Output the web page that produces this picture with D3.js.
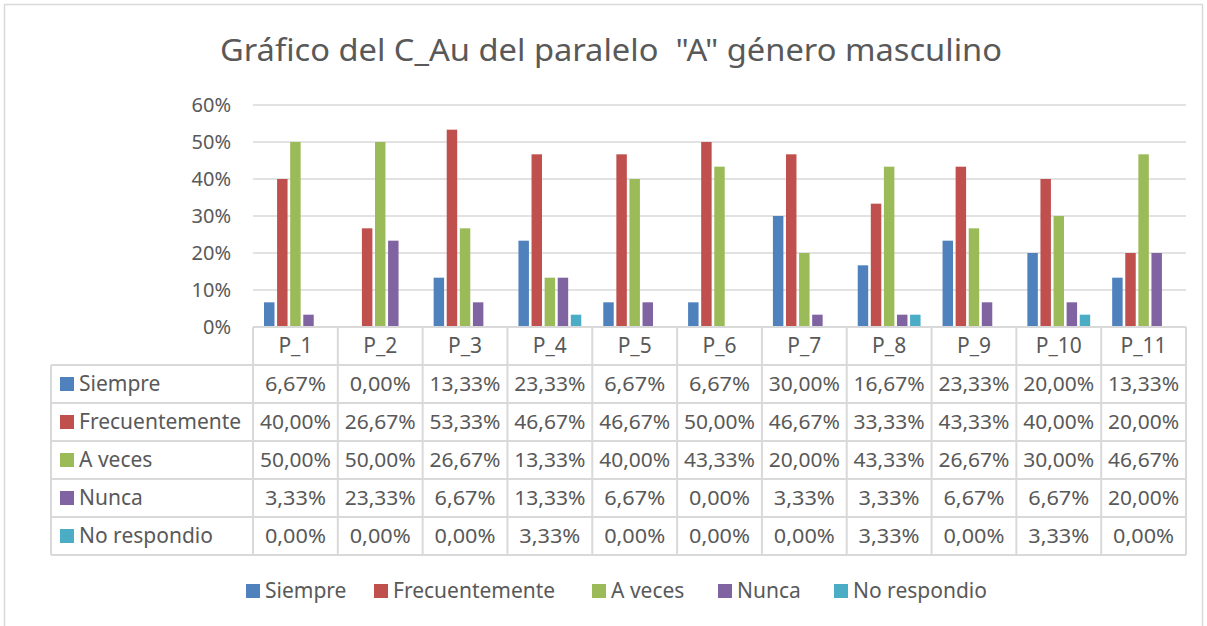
<!DOCTYPE html>
<html>
<head>
<meta charset="utf-8">
<script src="https://cdn.jsdelivr.net/npm/d3@7"></script>
<style>
  body { margin: 0; background: #fff; }
  text { font-family: 'Noto Sans', 'Open Sans', sans-serif; fill: #595959; }
</style>
</head>
<body>
<script>
const categories = ['P_1', 'P_2', 'P_3', 'P_4', 'P_5', 'P_6', 'P_7', 'P_8', 'P_9', 'P_10', 'P_11']
const seriesNames = ['Siempre', 'Frecuentemente', 'A veces', 'Nunca', 'No respondio']
const siempre = [6.67, 0, 13.33, 23.33, 6.67, 6.67, 30, 16.67, 23.33, 20, 13.33]
const frecuentemente = [40, 26.67, 53.33, 46.67, 46.67, 50, 46.67, 33.33, 43.33, 40, 20]
const aVeces = [50, 50, 26.67, 13.33, 40, 43.33, 20, 43.33, 26.67, 30, 46.67]
const nunca = [3.33, 23.33, 6.67, 13.33, 6.67, 0, 3.33, 3.33, 6.67, 6.67, 20]
const noRespondio = [0, 0, 0, 3.33, 0, 0, 0, 3.33, 0, 3.33, 0]
const yTicks = [0, 10, 20, 30, 40, 50, 60]

const seriesValues = [siempre, frecuentemente, aVeces, nunca, noRespondio]
const colors = ['#4F81BD', '#C0504D', '#9BBB59', '#8064A2', '#4BACC6']

const width = 1207
const height = 626
const gridColor = '#D9D9D9'

const svg = d3.select('body').append('svg')
  .attr('width', width)
  .attr('height', height)

// chart border
svg.append('rect')
  .attr('x', 4.5).attr('y', 4.5)
  .attr('width', 1198).attr('height', 640)
  .attr('fill', 'none')
  .attr('stroke', gridColor)
  .attr('stroke-width', 1.5)

svg.append('text')
  .attr('x', 611).attr('y', 61)
  .attr('text-anchor', 'middle')
  .style('font-size', '31px')
  .attr('textLength', 782)
  .attr('lengthAdjust', 'spacingAndGlyphs')
  .attr('xml:space', 'preserve')
  .text('Gráfico del C_Au del paralelo  "A" género masculino')

const x0 = d3.scaleBand().domain(categories).range([253, 1186])
const x1 = d3.scaleBand().domain(seriesNames)
  .range([11, x0.bandwidth() - 11])
  .paddingInner(0.2)
const y = d3.scaleLinear().domain([0, 60]).range([327, 105])

// gridlines
svg.append('g')
  .selectAll('line')
  .data(yTicks.slice(1))
  .enter().append('line')
  .attr('x1', 253).attr('x2', 1186)
  .attr('y1', d => y(d)).attr('y2', d => y(d))
  .attr('stroke', gridColor)
  .attr('stroke-width', 1.5)

// y axis
const yAxis = svg.append('g')
  .attr('transform', 'translate(231,0)')
  .call(d3.axisLeft(y).tickValues(yTicks).tickSize(0).tickPadding(0).tickFormat(d => d + '%'))
yAxis.select('.domain').remove()
yAxis.selectAll('text')
  .style('font-size', '20px')
  .attr('fill', '#595959')
  .attr('font-family', null)

// bars
const groups = svg.append('g')
  .selectAll('g')
  .data(categories)
  .enter().append('g')
  .attr('transform', d => `translate(${x0(d)},0)`)

groups.selectAll('rect')
  .data((d, i) => seriesNames.map((s, j) => ({ s, v: seriesValues[j][i], c: colors[j] })))
  .enter().append('rect')
  .attr('x', d => x1(d.s))
  .attr('width', x1.bandwidth())
  .attr('y', d => y(d.v))
  .attr('height', d => y(0) - y(d.v))
  .attr('fill', d => d.c)

// data table
const rows = d3.scaleBand().domain(['header'].concat(seriesNames)).range([327, 555])
const table = svg.append('g')
const lineStyle = sel => sel.attr('stroke', gridColor).attr('stroke-width', 2).attr('fill', 'none')

// horizontal lines
table.append('line').attr('x1', 253).attr('x2', 1186).attr('y1', 327).attr('y2', 327).call(lineStyle)
seriesNames.forEach(s => {
  table.append('line').attr('x1', 51).attr('x2', 1186)
    .attr('y1', rows(s)).attr('y2', rows(s)).call(lineStyle)
})
table.append('line').attr('x1', 51).attr('x2', 1186).attr('y1', 555).attr('y2', 555).call(lineStyle)

// vertical lines
table.append('line').attr('x1', 51).attr('x2', 51).attr('y1', rows(seriesNames[0])).attr('y2', 555).call(lineStyle)
categories.forEach(c => {
  table.append('line').attr('x1', x0(c)).attr('x2', x0(c)).attr('y1', 327).attr('y2', 555).call(lineStyle)
})
table.append('line').attr('x1', 1186).attr('x2', 1186).attr('y1', 327).attr('y2', 555).call(lineStyle)

// header labels
table.selectAll('.cat')
  .data(categories)
  .enter().append('text')
  .attr('class', 'cat')
  .attr('x', d => x0(d) + x0.bandwidth() / 2)
  .attr('y', rows('header') + rows.bandwidth() / 2)
  .attr('dy', '0.35em')
  .attr('text-anchor', 'middle')
  .style('font-size', '21px')
  .text(d => d)

const fmt = v => v.toFixed(2).replace('.', ',') + '%'

seriesNames.forEach((s, j) => {
  const cy = rows(s) + rows.bandwidth() / 2
  table.append('rect')
    .attr('x', 60).attr('y', cy - 7)
    .attr('width', 14).attr('height', 14)
    .attr('fill', colors[j])
  table.append('text')
    .attr('x', 79).attr('y', cy).attr('dy', '0.35em')
    .style('font-size', '21px')
    .text(s)
  table.selectAll(null)
    .data(seriesValues[j])
    .enter().append('text')
    .attr('x', (d, i) => x0(categories[i]) + x0.bandwidth() / 2)
    .attr('y', cy).attr('dy', '0.35em')
    .attr('text-anchor', 'middle')
    .style('font-size', '20px')
    .attr('textLength', d => d >= 10 ? 71 : 61)
    .attr('lengthAdjust', 'spacingAndGlyphs')
    .text(fmt)
})

// legend
const legendX = [246, 374, 592, 718, 834]
const legend = svg.append('g')
  .selectAll('g')
  .data(seriesNames)
  .enter().append('g')
  .attr('transform', (d, i) => `translate(${legendX[i]},591)`)
legend.append('rect')
  .attr('x', 0).attr('y', -7)
  .attr('width', 14).attr('height', 14)
  .attr('fill', (d, i) => colors[i])
legend.append('text')
  .attr('x', 19).attr('dy', '0.35em')
  .style('font-size', '21px')
  .text(d => d)
</script>
</body>
</html>
